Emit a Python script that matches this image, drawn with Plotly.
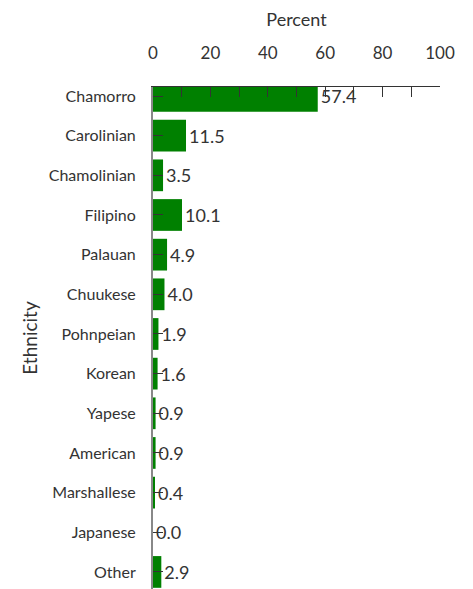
import plotly.graph_objects as go

categories = ["Chamorro", "Carolinian", "Chamolinian", "Filipino", "Palauan", "Chuukese",
              "Pohnpeian", "Korean", "Yapese", "American", "Marshallese", "Japanese", "Other"]
percent = [57.4, 11.5, 3.5, 10.1, 4.9, 4.0, 1.9, 1.6, 0.9, 0.9, 0.4, 0.0, 2.9]
x_ticks = [0, 20, 40, 60, 80, 100]

FONT = "Lato, 'Open Sans', sans-serif"
TXT = "#333333"

fig = go.Figure(go.Bar(
    x=percent, y=categories, orientation="h",
    marker=dict(color="#008000", line=dict(width=0)),
    text=[f"{v:.1f}" for v in percent], textposition="outside",
    textfont=dict(family=FONT, size=18, color=TXT),
    cliponaxis=True,
))

fig.update_layout(
    width=465, height=581,
    margin=dict(l=145, r=33, t=79, b=0),
    plot_bgcolor="white", paper_bgcolor="white",
    bargap=0.2, showlegend=False,
    font=dict(family=FONT, size=16, color=TXT),
    xaxis=dict(
        side="top", range=[0, 100], tickvals=x_ticks,
        ticks="inside", ticklen=10, tickcolor="#333", tickwidth=1,
        minor=dict(dtick=10, tick0=0, ticks="inside", ticklen=10, tickcolor="#333"),
        showline=True, linecolor="#333", linewidth=1,
        showgrid=False, zeroline=False,
        title=dict(text="Percent", standoff=17, font=dict(size=18)),
        tickfont=dict(size=17), ticklabelstandoff=20,
    ),
    yaxis=dict(
        categoryorder="array", categoryarray=categories,
        range=[12.43, -0.227],
        ticks="inside", ticklen=10, tickcolor="#333", tickwidth=1,
        showline=True, linecolor="#888", linewidth=2,
        showgrid=False, zeroline=False,
        title=dict(text="Ethnicity", standoff=6, font=dict(size=19)),
        tickfont=dict(size=16), ticklabelstandoff=12,
    ),
)

fig.write_html("out.html")
